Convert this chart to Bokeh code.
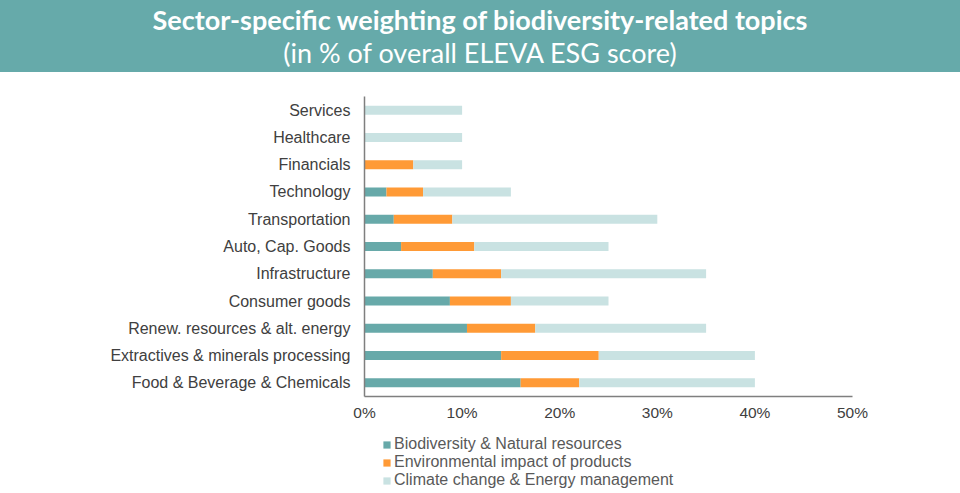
from bokeh.plotting import figure
from bokeh.models import (FactorRange, Range1d, Legend, LegendItem, Div,
                          FixedTicker, PrintfTickFormatter, ColumnDataSource)
from bokeh.layouts import column
from bokeh.embed import file_html
from bokeh.resources import INLINE

# ---- data (bottom to top) ----
sectors = ["Food & Beverage & Chemicals", "Extractives & minerals processing",
           "Renew. resources & alt. energy", "Consumer goods", "Infrastructure",
           "Auto, Cap. Goods", "Transportation", "Technology", "Financials",
           "Healthcare", "Services"]
biodiversity = [16.0, 14.0, 10.5, 8.75, 7.0, 3.75, 3.0, 2.25, 0.0, 0.0, 0.0]
env_impact = [6.0, 10.0, 7.0, 6.25, 7.0, 7.5, 6.0, 3.75, 5.0, 0.0, 0.0]
climate = [18.0, 16.0, 17.5, 10.0, 21.0, 13.75, 21.0, 9.0, 5.0, 10.0, 10.0]
series = ["Biodiversity & Natural resources", "Environmental impact of products",
          "Climate change & Energy management"]
colors = ["#67A9A9", "#FF9A36", "#C9E2E2"]
x_ticks = [0, 10, 20, 30, 40, 50]

title_line1 = "Sector-specific weighting of biodiversity-related topics"
title_line2 = "(in % of overall ELEVA ESG score)"

src = ColumnDataSource(dict(sector=sectors, bio=biodiversity, env=env_impact, clim=climate))

header = Div(
    text=(f'<div style="padding-top:3px;text-align:center;color:white;font-family:Lato;'
          f'font-size:27px;line-height:33px;width:960px;white-space:nowrap">'
          f'<b>{title_line1}</b><br>{title_line2}</div>'),
    width=960, height=72, margin=0,
    styles={"background-color": "#66AAAA", "overflow": "hidden"})

p = figure(width=960, height=354, y_range=FactorRange(*sectors),
           x_range=Range1d(0, 50), output_backend="svg", toolbar_location=None,
           min_border_left=364, min_border_right=108, min_border_top=24,
           min_border_bottom=30, outline_line_color=None, margin=0)

rs = p.hbar_stack(["bio", "env", "clim"], y="sector", height=0.33, color=colors,
                  line_color=None, source=src)

p.xgrid.visible = False
p.ygrid.visible = False

p.xaxis.ticker = FixedTicker(ticks=x_ticks)
p.xaxis.formatter = PrintfTickFormatter(format="%d%%")
for ax in (p.xaxis[0], p.yaxis[0]):
    ax.major_tick_line_color = None
    ax.minor_tick_line_color = None
    ax.major_tick_out = 0
    ax.major_tick_in = 0
    ax.axis_line_color = "#7F7F7F"
    ax.axis_line_width = 1.5
    ax.major_label_text_font = "Liberation Sans"
    ax.major_label_text_color = "#404040"
p.xaxis.major_label_text_font_size = "15.5px"
p.xaxis.major_label_standoff = 7
p.yaxis.major_label_text_font_size = "16px"
p.yaxis.major_label_standoff = 14

# legend panel: proxy renderers of zero length (nothing visible), only the legend shows
lg = figure(width=960, height=67, y_range=FactorRange(*sectors),
            x_range=Range1d(0, 50), output_backend="svg", toolbar_location=None,
            x_axis_location=None, y_axis_location=None, outline_line_color=None,
            min_border_left=364, min_border_right=108, min_border_top=0,
            min_border_bottom=0, margin=0)
lg.xgrid.visible = False
lg.ygrid.visible = False
proxy = ColumnDataSource(dict(sector=[sectors[0]], bio=[0.0], env=[0.0], clim=[0.0]))
lrs = lg.hbar_stack(["bio", "env", "clim"], y="sector", height=0.33, color=colors,
                    line_color=None, source=proxy)

legend = Legend(items=[LegendItem(label=s, renderers=[r]) for s, r in zip(series, lrs)],
                location=(18, 4), orientation="vertical",
                glyph_width=9, glyph_height=9, label_standoff=3, spacing=0,
                label_height=18, padding=0, margin=0,
                border_line_color=None, background_fill_alpha=0,
                label_text_font="Liberation Sans", label_text_font_size="16px",
                label_text_color="#595959")
lg.add_layout(legend, "center")

layout = column(header, p, lg, spacing=0)
open("out.html", "w").write(file_html(layout, INLINE))
